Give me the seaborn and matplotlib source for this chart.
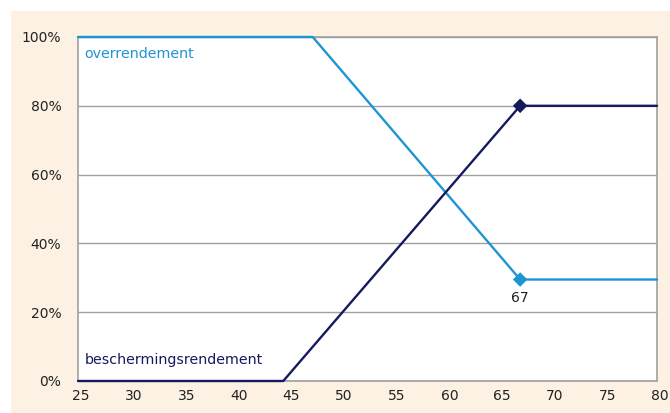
import matplotlib
matplotlib.use("Agg")
import matplotlib.pyplot as plt
import matplotlib.transforms as mtransforms
import seaborn as sns
import pandas as pd
from matplotlib.patches import Rectangle
from matplotlib.ticker import FuncFormatter

# data
over_x = [25, 47.3, 67, 80]
over_y = [100, 100, 29.5, 29.5]
bescherm_x = [25, 44.5, 67, 80]
bescherm_y = [0, 0, 80, 80]
marker_x = [67, 67]
marker_y = [80, 29.5]
marker_series = ["beschermingsrendement", "overrendement"]

light = "#1E95D3"
navy = "#141A5E"
grid_c = "#A0A0A0"
panel_c = "#FCF1E2"

df = pd.concat([
    pd.DataFrame({"x": over_x, "y": over_y, "serie": "overrendement"}),
    pd.DataFrame({"x": bescherm_x, "y": bescherm_y, "serie": "beschermingsrendement"}),
])
pts = pd.DataFrame({"x": marker_x, "y": marker_y, "serie": marker_series})
palette = {"overrendement": light, "beschermingsrendement": navy}

sns.set_style("white")
plt.rcParams["font.family"] = ["DejaVu Sans"]

fig = plt.figure(figsize=(6.7, 4.13), dpi=100)
bg = Rectangle((11 / 670, 0), 1, 1 - 11 / 413, transform=fig.transFigure,
               facecolor=panel_c, edgecolor="none", zorder=-10)
fig.add_artist(bg)
ax = fig.add_axes([78 / 670, 1 - 381 / 413, (657 - 78) / 670, (381 - 37) / 413])
ax.set_zorder(5)
ax.set_facecolor("white")

sns.lineplot(data=df, x="x", y="y", hue="serie", palette=palette, sort=False,
             linewidth=1.7, legend=False, ax=ax, zorder=3, clip_on=False)
sns.scatterplot(data=pts, x="x", y="y", hue="serie", palette=palette, marker="D",
                s=55, edgecolor="none", legend=False, ax=ax, zorder=4)

ax.set_xlim(25, 80)
ax.set_ylim(0, 100)
ax.set_xticks(range(25, 81, 5))
ax.set_yticks(range(0, 101, 20))
ax.yaxis.set_major_formatter(FuncFormatter(lambda v, _: f"{v:.0f}%"))
ax.tick_params(length=0, labelsize=10, colors="#222222")
ax.tick_params(axis="y", pad=12)
ax.tick_params(axis="x", pad=6)
# labels in the reference sit a few pixels right of their tick
shift = mtransforms.ScaledTranslation(3 / 100, 0, fig.dpi_scale_trans)
for lbl in ax.get_xticklabels():
    lbl.set_transform(lbl.get_transform() + shift)
ax.set_xlabel("")
ax.set_ylabel("")
ax.grid(axis="y", color=grid_c, linewidth=1.0)
for s in ax.spines.values():
    s.set_color(grid_c)
    s.set_linewidth(1.2)

ax.text(25.6, 95, "overrendement", color=light, fontsize=10.3, va="center")
ax.text(25.6, 6, "beschermingsrendement", color=navy, fontsize=10.3, va="center")
ax.text(67, 24, "67", color="#222222", fontsize=10, ha="center", va="center")

fig.savefig("out.png", dpi=100)
